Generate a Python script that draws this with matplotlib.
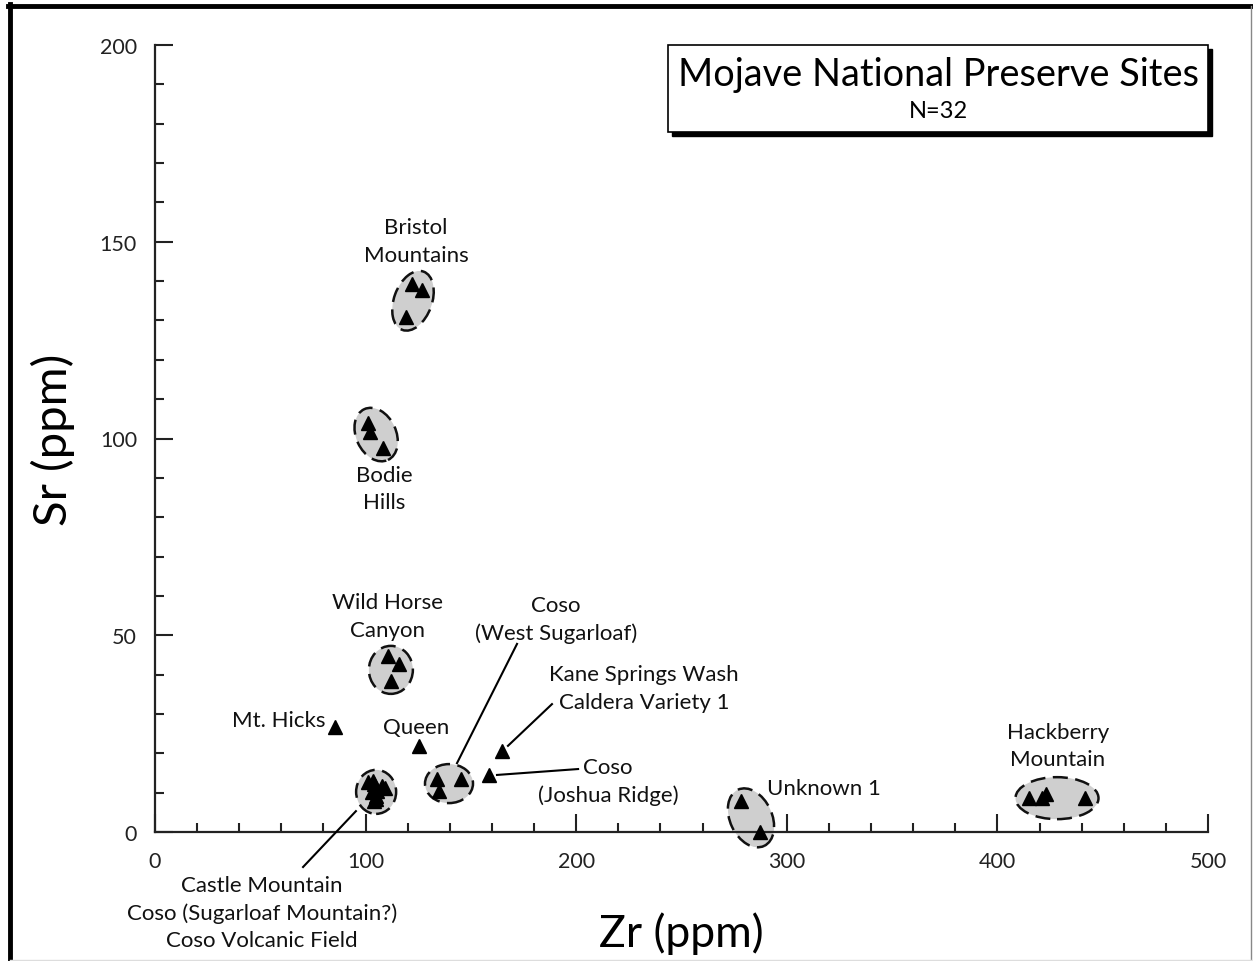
import matplotlib
matplotlib.use("Agg")
import matplotlib.pyplot as plt
import numpy as np
from matplotlib.patches import Ellipse, Rectangle
from matplotlib.transforms import Affine2D
from matplotlib.lines import Line2D

plt.rcParams['font.family'] = ['Lato', 'DejaVu Sans']

# triangles, Zr / Sr (ppm)
bristol_zr = [122.0, 126.8, 119.2]
bristol_sr = [139.3, 137.7, 130.9]
bodie_zr = [101.1, 102.1, 108.3]
bodie_sr = [103.9, 101.6, 97.6]
wildhorse_zr = [110.6, 115.9, 112.1]
wildhorse_sr = [44.7, 42.7, 38.4]
castle_zr = [101.1, 103.5, 104.0, 109.2, 108.0, 103.0, 105.5, 104.9, 104.0, 105.0]
castle_sr = [12.7, 12.9, 12.2, 11.2, 11.6, 10.2, 10.5, 9.1, 7.9, 8.4]
westsug_zr = [133.9, 145.3, 134.9]
westsug_sr = [13.5, 13.5, 10.4]
unknown_zr = [278.3, 287.3]
unknown_sr = [7.9, 0.0]
hackberry_zr = [415.0, 421.2, 423.1, 441.6]
hackberry_sr = [8.6, 8.6, 9.7, 8.6]
single_zr = [85.5, 125.4, 158.6, 164.8]   # Mt. Hicks, Queen, Joshua Ridge, Kane Springs
single_sr = [26.7, 21.9, 14.5, 20.6]

# group ellipses: centre (data), width/height (px), angle
ell_cx = [122.5, 105.0, 112.0, 105.0, 139.6, 283.0, 428.3]
ell_cy = [135.0, 101.0, 41.2, 10.2, 12.3, 3.6, 8.6]
ell_w = [38, 40, 44, 40, 48, 42, 83]
ell_h = [62, 56, 48, 44, 39, 62, 42]
ell_ang = [-20, 25, 0, 0, 0, 25, 0]

labels = ["Bristol\nMountains", "Bodie\nHills", "Wild Horse\nCanyon",
          "Coso\n(West Sugarloaf)", "Kane Springs Wash\nCaldera Variety 1",
          "Mt. Hicks", "Queen", "Coso\n(Joshua Ridge)", "Unknown 1",
          "Hackberry\nMountain",
          "Castle Mountain\nCoso (Sugarloaf Mountain?)\nCoso Volcanic Field"]
label_x = [123.9, 108.7, 110.6, 190.4, 232.2, 58.9, 123.9, 215.1, 317.7, 428.8, 50.8]
label_y = [150.2, 87.2, 54.9, 54.1, 36.6, 28.5, 26.7, 13.0, 11.2, 21.9, -20.4]

# leader lines (x0, y0, x1, y1)
leaders = [(171.9, 47.8, 143.4, 17.5),
           (188.5, 32.5, 167.6, 21.9),
           (200.9, 16.0, 162.4, 14.5),
           (95.4, 5.3, 70.3, -8.9)]

W, H = 1253, 962
fig = plt.figure(figsize=(W / 100, H / 100), dpi=100)
left, right, bottom, top = 155 / W, 1208 / W, (H - 833) / H, (H - 46) / H
ax = fig.add_axes([left, bottom, right - left, top - bottom])
ax.set_xlim(0, 500)
ax.set_ylim(0, 200)

sx = W * (right - left) / 500
sy = H * (top - bottom) / 200

for cx, cy, w, h, a in zip(ell_cx, ell_cy, ell_w, ell_h, ell_ang):
    tr = Affine2D().scale(1 / sx, 1 / sy).translate(cx, cy) + ax.transData
    e = Ellipse((0, 0), w, h, angle=a, transform=tr, facecolor='#cfcfcf',
                edgecolor='#111111', lw=1.8, ls=(0, (6, 3)), clip_on=False, zorder=2)
    ax.add_patch(e)

all_zr = bristol_zr + bodie_zr + wildhorse_zr + castle_zr + westsug_zr + unknown_zr + hackberry_zr + single_zr
all_sr = bristol_sr + bodie_sr + wildhorse_sr + castle_sr + westsug_sr + unknown_sr + hackberry_sr + single_sr
ax.plot(all_zr, all_sr, ls='none', marker='^', ms=9.5, color='black', clip_on=False, zorder=4)

for (x0, y0, x1, y1) in leaders:
    ax.plot([x0, x1], [y0, y1], color='black', lw=1.5, clip_on=False, zorder=3)

for t, x, y in zip(labels, label_x, label_y):
    ax.text(x, y, t, ha='center', va='center', fontsize=16, color='#111111',
            linespacing=1.45, clip_on=False)

for s in ['top', 'right']:
    ax.spines[s].set_visible(False)
for s in ['left', 'bottom']:
    ax.spines[s].set_linewidth(1.6)
    ax.spines[s].set_color('#222222')

ax.set_xticks([0, 100, 200, 300, 400, 500])
ax.set_yticks([0, 50, 100, 150, 200])
ax.set_xticks(np.arange(0, 501, 20), minor=True)
ax.set_yticks(np.arange(0, 201, 10), minor=True)
ax.tick_params(which='major', direction='in', length=13, width=1.5, color='#222222',
               labelsize=15.5, labelcolor='#222222')
ax.tick_params(which='minor', direction='in', length=6.5, width=1.5, color='#222222')
ax.tick_params(axis='x', which='major', pad=14)
ax.tick_params(axis='y', which='major', pad=13)

ax.set_xlabel("Zr (ppm)", fontsize=32)
ax.set_ylabel("Sr (ppm)", fontsize=34)
ax.xaxis.set_label_coords((681 - 155) / (1208 - 155), -(912 - 833) / (833 - 46))
ax.yaxis.set_label_coords(-(155 - 75) / (1208 - 155), (833 - 440) / (833 - 46))

# title box with drop shadow
bx0, bx1, by0, by1 = 668, 1208, 46, 133
fig.add_artist(Rectangle((bx0 / W + 4 / W, (H - by1 - 4) / H), (bx1 - bx0) / W, (by1 - by0) / H,
                         transform=fig.transFigure, facecolor='black', edgecolor='black', zorder=5))
fig.add_artist(Rectangle((bx0 / W, (H - by1) / H), (bx1 - bx0) / W, (by1 - by0) / H,
                         transform=fig.transFigure, facecolor='white', edgecolor='black', lw=1.2, zorder=6))
fig.text((bx0 + bx1) / 2 / W, (H - 75) / H, "Mojave National Preserve Sites", ha='center', va='center',
         fontsize=27.3, color='black', zorder=7)
fig.text((bx0 + bx1) / 2 / W, (H - 112) / H, "N=32", ha='center', va='center',
         fontsize=17, color='black', zorder=7)

# outer frame
fig.add_artist(Line2D([9.5 / W, 9.5 / W], [0, (H - 5) / H], transform=fig.transFigure, color='black', lw=3.5))
fig.add_artist(Line2D([8 / W, 1251 / W], [(H - 6.5) / H, (H - 6.5) / H], transform=fig.transFigure, color='black', lw=3.5))
fig.add_artist(Line2D([1251 / W, 1251 / W], [0, (H - 6.5) / H], transform=fig.transFigure, color='#888888', lw=1))
fig.add_artist(Line2D([9.5 / W, 1251 / W], [1 / H, 1 / H], transform=fig.transFigure, color='#dddddd', lw=1))

fig.savefig("out.png", dpi=100, facecolor='white')
